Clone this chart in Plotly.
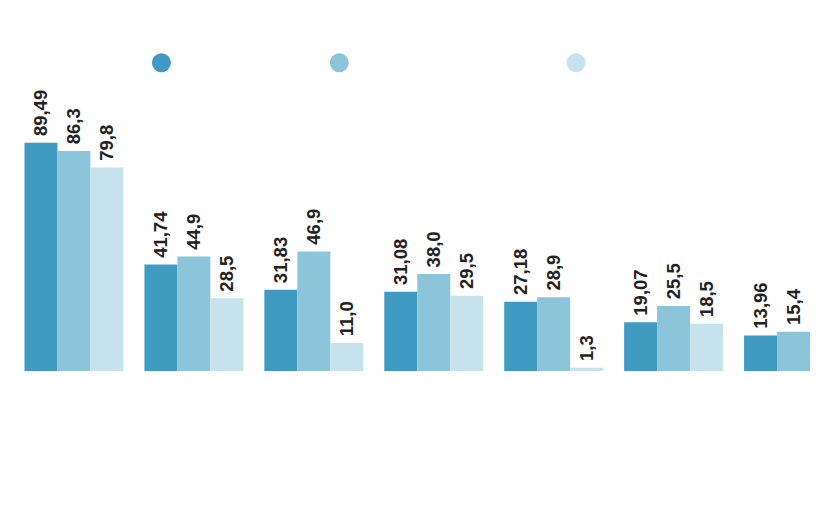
import plotly.graph_objects as go

categories = [0, 1, 2, 3, 4, 5, 6]
series_a = [89.49, 41.74, 31.83, 31.08, 27.18, 19.07, 13.96]
series_b = [86.3, 44.9, 46.9, 38.0, 28.9, 25.5, 15.4]
series_c = [79.8, 28.5, 11.0, 29.5, 1.3, 18.5, None]
colors = ["#3f9bc1", "#8cc4da", "#c5e2ed"]


def fmt(vals, dec):
    return [("" if v is None else "\u2009" + f"{v:.{dec}f}".replace(".", ",")) for v in vals]


fig = go.Figure()
for vals, col, dec in [(series_a, colors[0], 2), (series_b, colors[1], 1), (series_c, colors[2], 1)]:
    fig.add_trace(go.Bar(
        x=categories, y=vals, marker=dict(color=col, line=dict(width=0)),
        text=fmt(vals, dec), textposition="outside", textangle=-90,
        textfont=dict(family="Liberation Sans, Arial", size=18.5, color="#222222", weight="bold"),
        cliponaxis=False, constraintext="none", showlegend=False,
        hoverinfo="skip",
    ))

# page body offset of 8px
OFF = 8
L = 13.5 - OFF
T = 116.2 - OFF
PW = 840 - L
PH = 254.8

# legend dots
for xp, col in zip([161, 339, 576], colors):
    cx = xp - OFF - L
    cy = 63 - OFF - T
    fig.add_shape(type="circle", xref="paper", yref="paper",
                  x0=(cx - 9.5) / PW, x1=(cx + 9.5) / PW,
                  y0=1 - (cy + 9.5) / PH, y1=1 - (cy - 9.5) / PH,
                  fillcolor=col, line=dict(width=0))

fig.update_layout(
    width=840, height=520,
    margin=dict(l=L, r=0, t=T, b=520 - T - PH),
    paper_bgcolor="white", plot_bgcolor="white",
    barmode="group", bargap=0.175, bargroupgap=0,
    xaxis=dict(range=[-0.5, -0.5 + PW / 120], visible=False, fixedrange=True),
    yaxis=dict(range=[0, 100], visible=False, fixedrange=True),
)
fig.write_html("out.html")
